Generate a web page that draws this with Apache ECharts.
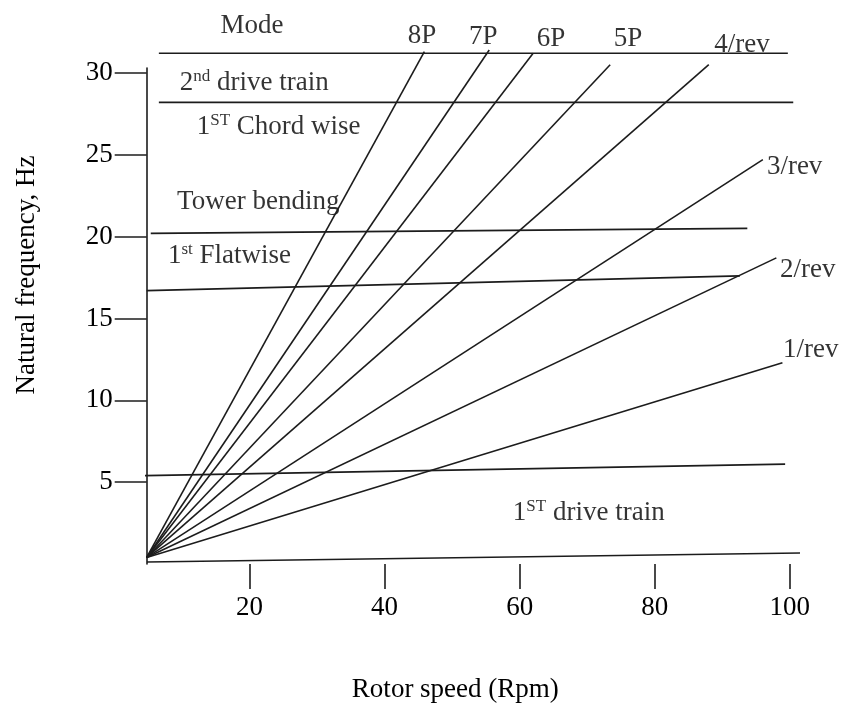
<!DOCTYPE html>
<html>
<head>
<meta charset="utf-8">
<script src="https://cdn.jsdelivr.net/npm/echarts@6/dist/echarts.min.js"></script>
<style>
html,body{margin:0;padding:0;background:#fff;}
#chart{width:842px;height:704px;}
</style>
</head>
<body>
<div id="chart"></div>
<script>
// ---- data (rotor speed in rpm, frequency in Hz) ----
const xTicks = [20, 40, 60, 80, 100];
const yTicks = [5, 10, 15, 20, 25, 30];

// excitation rays (all start at the common origin)
const rayOrigin = [4.8, 0.4];
const rayNames = ['8P', '7P', '6P', '5P', '4/rev', '3/rev', '2/rev', '1/rev'];
const rayEndRpm = [45.9, 55.5, 62.0, 73.4, 88.0, 96.0, 98.0, 98.9];
const rayEndHz = [31.3, 31.4, 31.2, 30.5, 30.5, 24.7, 18.7, 12.3];

// natural-frequency mode lines: [startRpm, startHz, endRpm, endHz]
const modeLineStartRpm = [6.6, 6.6, 5.4, 4.8, 4.5];
const modeLineStartHz = [31.2, 28.2, 20.2, 16.7, 5.4];
const modeLineEndRpm = [99.7, 100.5, 93.7, 92.6, 99.3];
const modeLineEndHz = [31.2, 28.2, 20.5, 17.6, 6.1];

// base (rotor speed) line
const baseStart = [4.84, 0.12];
const baseEnd = [101.5, 0.67];

// text annotations
const noteText = ['Mode', '2nd drive train', '1ST Chord wise', 'Tower bending', '1st Flatwise', '1ST drive train',
  '8P', '7P', '6P', '5P', '4/rev', '3/rev', '2/rev', '1/rev'];
const noteRpm = [20.4, 9.7, 12.2, 9.3, 7.95, 59.0, 45.55, 54.6, 64.65, 76.05, 92.9, 96.6, 98.55, 99.0];
const noteHz = [32.9, 29.4, 26.7, 22.1, 18.8, 3.1, 32.25, 32.2, 32.1, 32.1, 31.7, 24.25, 17.95, 13.05];
const noteAlign = ['center', 'left', 'left', 'left', 'left', 'left', 'center', 'center', 'center', 'center', 'center', 'left', 'left', 'left'];

// ---- build the chart ----
const FONT = "'Liberation Serif', 'Times New Roman', serif";
const INK = '#1c1c1c';
const TXT = '#000';
const lineStyle = {color: INK, width: 1.6};

const series = [];
rayNames.forEach(function (n, i) {
  series.push({
    type: 'line', name: n, clip: false, symbol: 'none', silent: true,
    lineStyle: lineStyle,
    data: [rayOrigin, [rayEndRpm[i], rayEndHz[i]]]
  });
});
modeLineStartRpm.forEach(function (v, i) {
  series.push({
    type: 'line', clip: false, symbol: 'none', silent: true,
    lineStyle: lineStyle,
    data: [[modeLineStartRpm[i], modeLineStartHz[i]], [modeLineEndRpm[i], modeLineEndHz[i]]]
  });
});
series.push({
  type: 'line', clip: false, symbol: 'none', silent: true,
  lineStyle: lineStyle, data: [baseStart, baseEnd]
});

function toRich(t) {
  const m = t.match(/^(\d)(nd|st|ST)(.*)$/);
  if (!m) return t;
  return '{n|' + m[1] + '}{sup|' + m[2] + '}{n|' + m[3] + '}';
}
series.push({
  type: 'scatter', clip: false, symbolSize: 0, silent: true,
  label: {
    show: true, position: 'inside', color: TXT, fontFamily: FONT, fontSize: 27,
    formatter: function (p) { return toRich(p.name); },
    rich: {
      n: {fontFamily: FONT, fontSize: 27, color: TXT, lineHeight: 30},
      sup: {fontFamily: FONT, fontSize: 17, color: TXT, lineHeight: 14, verticalAlign: 'top'}
    }
  },
  data: noteText.map(function (t, i) {
    return {name: t, value: [noteRpm[i], noteHz[i]], label: {align: noteAlign[i]}};
  })
});

const chart = echarts.init(document.getElementById('chart'), null, {renderer: 'canvas'});
chart.setOption({
  animation: false,
  backgroundColor: '#fff',
  grid: {left: 146.7, right: 42, top: 68, bottom: 140, containLabel: false, outerBoundsMode: 'none'},
  xAxis: {
    type: 'value', min: 4.8, max: 101.5,
    name: 'Rotor speed (Rpm)', nameLocation: 'middle', nameGap: 112,
    nameTextStyle: {fontFamily: FONT, fontSize: 27, color: TXT, padding: [0, 36, 0, 0]},
    axisLine: {show: false},
    axisTick: {show: true, length: 25, customValues: xTicks, lineStyle: {color: INK, width: 1.6}},
    axisLabel: {customValues: xTicks, margin: 30, fontFamily: FONT, fontSize: 27, color: TXT},
    splitLine: {show: false}
  },
  yAxis: {
    type: 'value', min: 0, max: 30.3,
    name: 'Natural frequency, Hz', nameLocation: 'middle', nameGap: 106,
    nameTextStyle: {fontFamily: FONT, fontSize: 27, color: TXT, padding: [0, 0, 0, 82]},
    axisLine: {show: true, lineStyle: {color: INK, width: 1.6}},
    axisTick: {show: true, length: 32, customValues: yTicks, lineStyle: {color: INK, width: 1.6}},
    axisLabel: {customValues: yTicks, margin: 34, fontFamily: FONT, fontSize: 27, color: TXT},
    splitLine: {show: false}
  },
  series: series
});
</script>
</body>
</html>
